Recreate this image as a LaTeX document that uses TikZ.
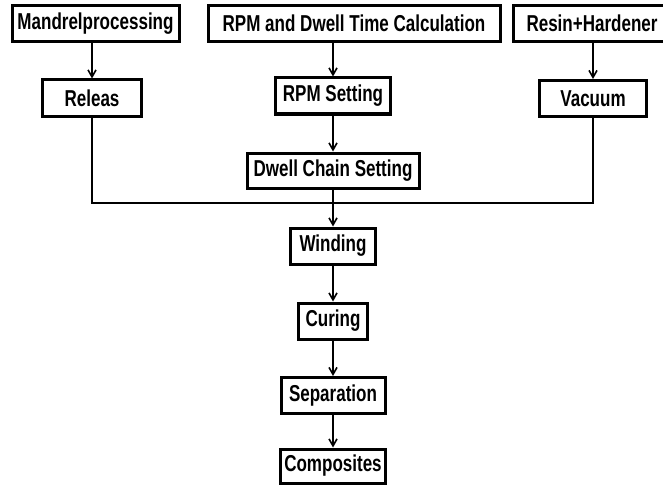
\documentclass[tikz,border=0pt]{standalone}
\usepackage{fontspec}
\setmainfont{Liberation Sans}[FakeStretch=0.74]
\usepackage{tikz}
\usetikzlibrary{positioning,arrows.meta}

\begin{document}
\begin{tikzpicture}[x=1pt, y=-1pt,
    procbox/.style={rectangle, draw, line width=3pt, inner sep=2pt,
      minimum height=36pt, font=\bfseries\fontsize{23}{23}\selectfont},
    flow/.style={line width=1.6pt, -{Straight Barb[length=7pt, width=8pt, line width=1.6pt]}}]
        \useasboundingbox (0,0) rectangle (663,484);

        % Top row: inputs
        \node[procbox, minimum width=167pt] (mandrel) at (95.5,23.5) {Mandrelprocessing};
        \node[procbox, minimum width=292pt] (calc) at (354,23.5) {RPM and Dwell Time Calculation};
        \node[procbox, minimum width=158pt] (resin) at (592,23.5) {Resin+Hardener};

        % Second row
        \node[procbox, minimum width=99pt] (releas) at (92,98) {Releas};
        \node[procbox, minimum width=115pt] (rpmset) at (333,96) {RPM Setting};
        \node[procbox, minimum width=107pt] (vacuum) at (593,98.5) {Vacuum};

        % Main column
        \node[procbox, minimum width=172pt, minimum height=35pt] (dwell) at (333,170.5) {Dwell Chain Setting};
        \node[procbox, minimum width=85pt] (winding) at (333,246) {Winding};
        \node[procbox, minimum width=69pt] (curing) at (333,321) {Curing};
        \node[procbox, minimum width=104pt] (separation) at (333,395.5) {Separation};
        \node[procbox, minimum width=105pt, minimum height=34pt] (composites) at (333,466) {Composites};

        % Arrows
        \draw[flow] (mandrel.south -| releas.north) -- (releas.north);
        \draw[flow] (rpmset.north |- calc.south) -- (rpmset.north);
        \draw[flow] (resin.south -| vacuum.north) -- (vacuum.north);
        \draw[flow] (rpmset) -- (dwell);

        % Collecting line
        \coordinate (join) at (333,203);
        \draw[line width=2pt] (releas.south) -- (releas.south |- join) -- (vacuum.south |- join) -- (vacuum.south);

        \draw[flow] (dwell) -- (winding);
        \draw[flow] (winding) -- (curing);
        \draw[flow] (curing) -- (separation);
        \draw[flow] (separation) -- (composites);
      \end{tikzpicture}
\end{document}
